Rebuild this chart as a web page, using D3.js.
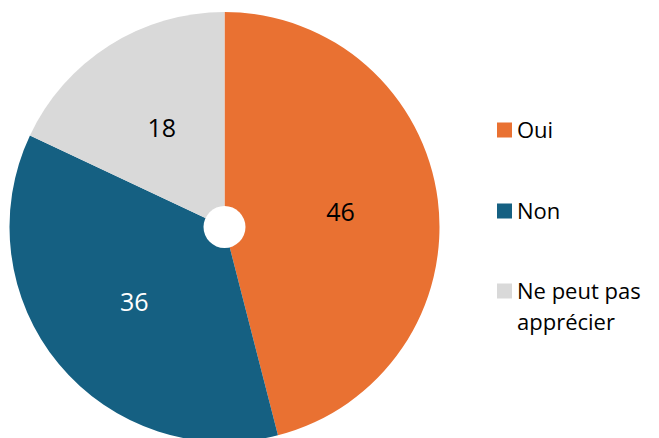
<!DOCTYPE html>
<html>
<head>
<meta charset="utf-8">
<script src="https://cdn.jsdelivr.net/npm/d3@7"></script>
<style>
  body { margin: 0; background: #fff; }
  svg { display: block; font-family: "Open Sans", "Liberation Sans", sans-serif; }
</style>
</head>
<body>
<div id="chart"></div>
<script>
/* Pie chart with a small white hole: Oui / Non / Ne peut pas apprécier */

const width = 659,
    height = 438;

// data
const categories = ["Oui", "Non", "Ne peut pas apprécier"];
const values = [46, 36, 18];
const colors = ["#E97132", "#156082", "#D9D9D9"];
const labelColors = ["#000000", "#ffffff", "#000000"];
const legendLines = [["Oui"], ["Non"], ["Ne peut pas", "apprécier"]];

const cx = 224.5, cy = 227, radius = 215, hole = 21;

const svg = d3.select("#chart")
    .append("svg")
    .attr("width", width)
    .attr("height", height)
    .attr("viewBox", [0, 0, width, height]);

const data = categories.map((c, i) => ({ cat: c, value: values[i], i: i }));

const pie = d3.pie()
    .value(d => d.value)
    .sort(null); // keep the order, start at 12 o'clock

const arc = d3.arc()
    .innerRadius(0)
    .outerRadius(radius);

const labelArc = d3.arc()
    .innerRadius(117)
    .outerRadius(117);

const g = svg.append("g")
    .attr("transform", `translate(${cx},${cy})`);

const arcs = pie(data);

g.selectAll("path.slice")
    .data(arcs)
    .join("path")
    .attr("class", "slice")
    .attr("d", arc)
    .attr("fill", d => colors[d.data.i]);

// white hole in the middle
g.append("circle")
    .attr("r", hole)
    .attr("fill", "#fff");

g.selectAll("text.value")
    .data(arcs)
    .join("text")
    .attr("class", "value")
    .attr("transform", d => `translate(${labelArc.centroid(d)})`)
    .attr("text-anchor", "middle")
    .attr("dy", "0.36em")
    .attr("font-size", 25)
    .attr("fill", d => labelColors[d.data.i])
    .text(d => d.data.value);

// legend
const legendY = [130, 211, 291];

const legend = svg.append("g")
    .selectAll("g")
    .data(data)
    .join("g")
    .attr("transform", (d, i) => `translate(497,${legendY[i]})`);

legend.append("rect")
    .attr("x", 0)
    .attr("y", -7.5)
    .attr("width", 15)
    .attr("height", 15)
    .attr("fill", d => colors[d.i]);

legend.append("text")
    .attr("x", 20)
    .attr("y", 0)
    .attr("font-size", 22)
    .attr("fill", "#000")
    .selectAll("tspan")
    .data(d => legendLines[d.i])
    .join("tspan")
    .attr("x", 20)
    .attr("dy", (d, i) => i === 0 ? "0.36em" : "1.43em")
    .text(d => d);
</script>
</body>
</html>
